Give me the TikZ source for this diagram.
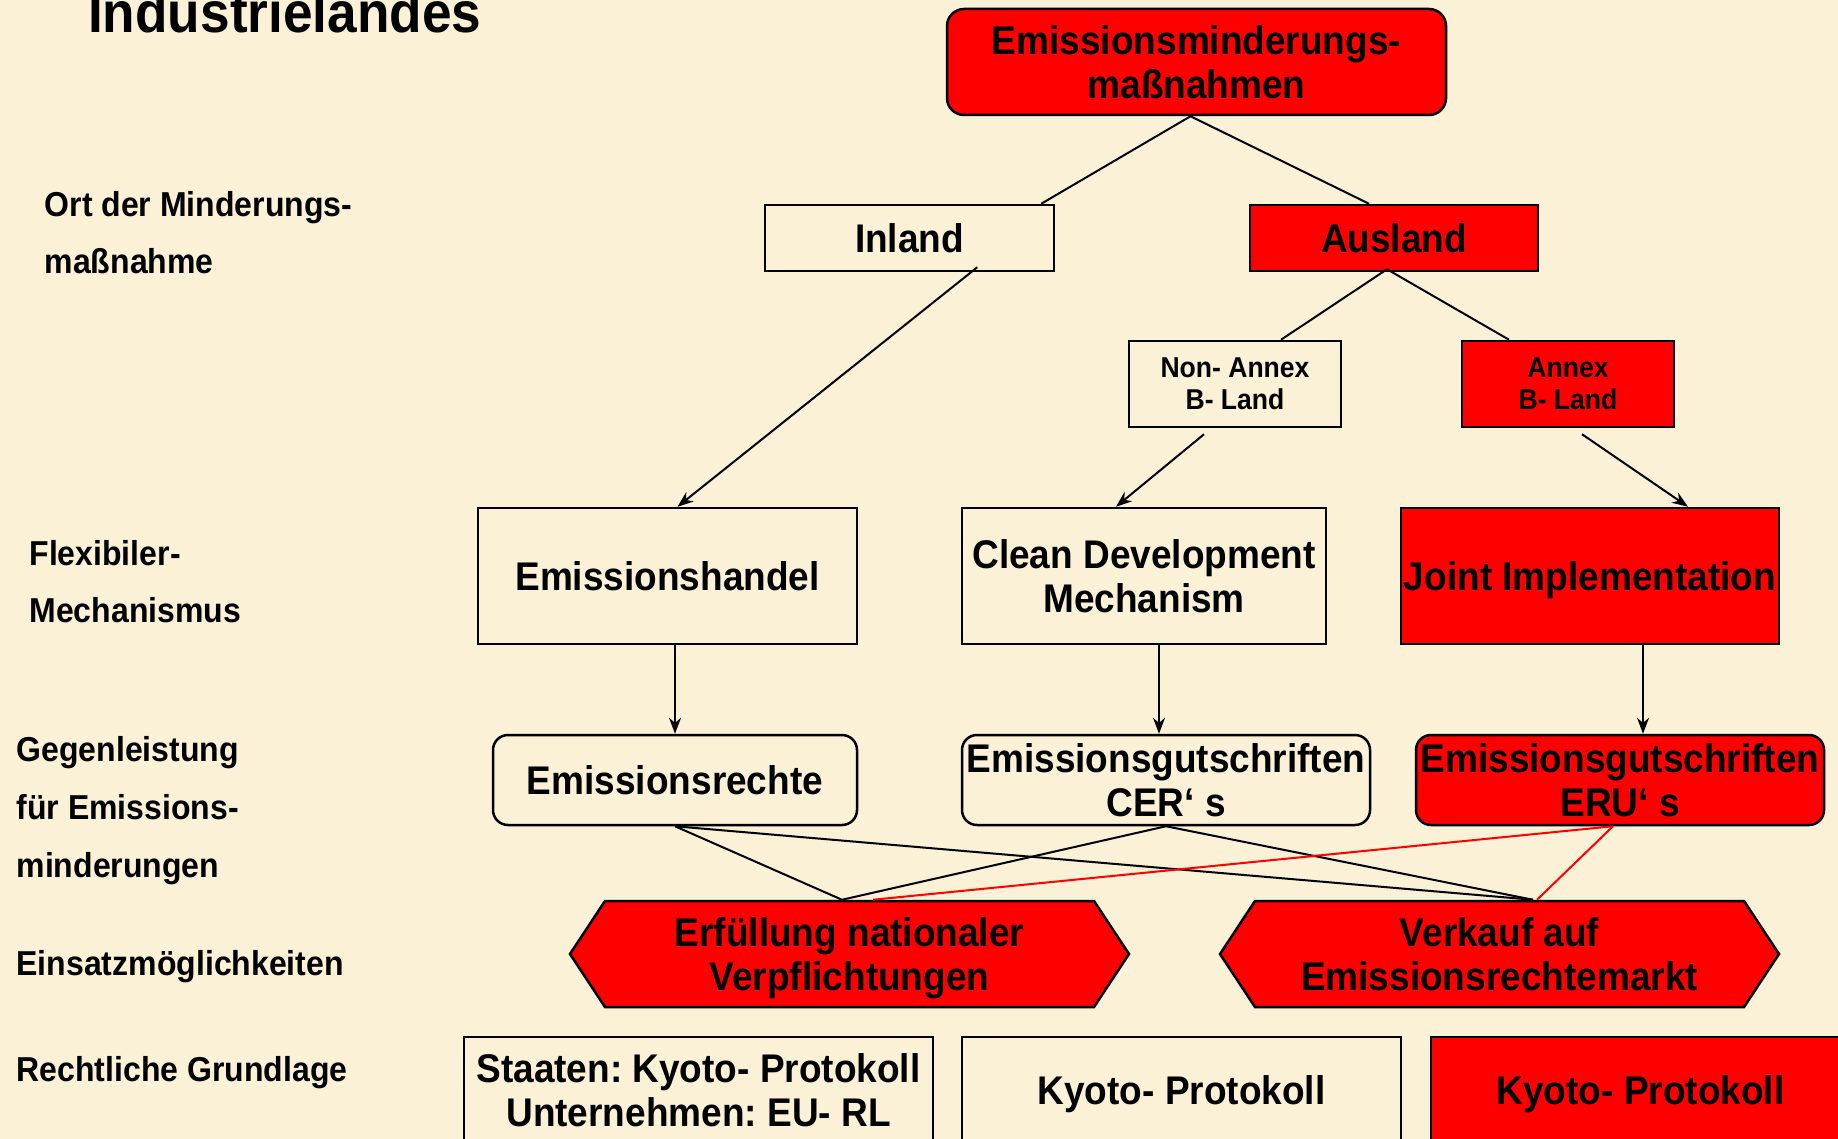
\documentclass[tikz,border=0pt]{standalone}
\usepackage{fontspec}
\setmainfont{Liberation Sans}[FakeStretch=0.925]
\usetikzlibrary{arrows.meta,calc}
\definecolor{bg}{RGB}{251,241,214}
\definecolor{rd}{RGB}{255,0,0}
\frenchspacing
\begin{document}
\begin{tikzpicture}[x=1pt,y=-1pt,
  box/.style={draw=black, line width=2.5pt, align=center, inner sep=0pt, text depth=0pt, font=\bfseries\fontsize{40}{44.5}\selectfont},
  wbox/.style={box},
  rbox/.style={box, fill=rd},
  small/.style={font=\bfseries\fontsize{28.7}{32}\selectfont},
  lab/.style={anchor=base west, inner sep=0pt, font=\bfseries\fontsize{34.6}{57}\selectfont},
  hexfill/.style={fill=rd, draw=black, line width=2.5pt},
  con/.style={line width=2pt, black},
  arr/.style={con, -{Stealth[length=16pt,width=12pt]}},
  redcon/.style={line width=2pt, rd}]
\clip (0,0) rectangle (1838,1139);
\fill[bg] (0,0) rectangle (1838,1139);

% title and row labels
\node[anchor=base west, inner sep=0pt, font=\bfseries\fontsize{57.5}{60}\selectfont] (title) at (88,33) {Industrielandes};
\node[lab] (l1) at (44.5,217) {\vtop{\baselineskip=57pt\hbox{Ort der Minderungs-}\hbox{maßnahme}}};
\node[lab] (l2) at (29.3,565) {\vtop{\baselineskip=57pt\hbox{Flexibiler-}\hbox{Mechanismus}}};
\node[lab] (l3) at (16.4,761) {\vtop{\baselineskip=58pt\hbox{Gegenleistung}\hbox{für Emissions-}\hbox{minderungen}}};
\node[lab] (l4) at (16.4,975) {Einsatzmöglichkeiten};
\node[lab] (l5) at (16.4,1081) {Rechtliche Grundlage};

% boxes
\node[rbox, rounded corners=17pt, minimum width=499pt, minimum height=106pt] (top) at (1196.5,62) {Emissionsminderungs-\\maßnahmen};
\node[wbox, minimum width=289pt, minimum height=66pt] (inland) at (909.5,238) {Inland};
\node[rbox, minimum width=288pt, minimum height=66pt] (ausland) at (1394,238) {Ausland};
\node[wbox, small, minimum width=212pt, minimum height=86pt] (nonannex) at (1235,384) {Non- Annex\\B- Land};
\node[rbox, small, minimum width=212pt, minimum height=86pt] (annex) at (1568,384) {Annex\\B- Land};
\node[wbox, minimum width=379pt, minimum height=136pt] (handel) at (667.5,576) {Emissionshandel};
\node[wbox, minimum width=364pt, minimum height=136pt] (cdm) at (1144,576) {Clean Development\\Mechanism};
\node[rbox, minimum width=378pt, minimum height=136pt] (ji) at (1590,576) {Joint Implementation};
\node[wbox, rounded corners=15pt, minimum width=364pt, minimum height=90pt] (rechte) at (675,780) {Emissionsrechte};
\node[wbox, rounded corners=15pt, minimum width=408pt, minimum height=90pt] (cer) at (1166,780) {Emissionsgutschriften\\CER‘ s};
\node[rbox, rounded corners=15pt, minimum width=408pt, minimum height=90pt] (eru) at (1620,780) {Emissionsgutschriften\\ERU‘ s};

% hexagons
\filldraw[hexfill] (570,954) -- (605,901) -- (1094,901) -- (1129,954) -- (1094,1007) -- (605,1007) -- cycle;
\node[box, draw=none, minimum width=559pt, minimum height=106pt] (erf) at (849.5,954) {Erfüllung nationaler\\Verpflichtungen};
\filldraw[hexfill] (1220,954) -- (1255,901) -- (1744,901) -- (1779,954) -- (1744,1007) -- (1255,1007) -- cycle;
\node[box, draw=none, minimum width=559pt, minimum height=106pt] (verk) at (1499.5,954) {Verkauf auf\\Emissionsrechtemarkt};

% legal basis
\node[wbox, minimum width=469pt, minimum height=106pt] (b1) at (698.5,1090) {Staaten: Kyoto- Protokoll\\Unternehmen: EU- RL};
\node[wbox, minimum width=439pt, minimum height=106pt] (b2) at (1181.5,1090) {Kyoto- Protokoll};
\node[rbox, minimum width=419pt, minimum height=106pt] (b3) at (1640.5,1090) {Kyoto- Protokoll};

% connectors
\draw[con] ($(top.south)+(-6,0)$) -- ($(inland.north east)+(-14,0)$);
\draw[con] ($(top.south)+(-6,0)$) -- ($(ausland.north)+(-25,0)$);
\draw[arr] ($(inland.south east)+(-78,-5)$) -- ($(handel.north)+(10,0)$);
\draw[con] ($(ausland.south)+(-7,-3)$) -- ($(nonannex.north)+(46,0)$);
\draw[con] ($(ausland.south)+(-7,-3)$) -- ($(annex.north)+(-59,0)$);
\draw[arr] ($(nonannex.south)+(-31,6)$) -- ($(cdm.north)+(-28,0)$);
\draw[arr] ($(annex.south)+(14,6)$) -- ($(ji.north)+(98,0)$);
\draw[arr] (rechte.north |- handel.south) -- (rechte.north);
\draw[arr] ($(cdm.south)+(15,0)$) -- ($(cer.north)+(-7,0)$);
\draw[arr] ($(ji.south)+(53,0)$) -- ($(eru.north)+(23,0)$);
\draw[con] (rechte.south) -- ($(erf.north)+(-7.5,0)$);
\draw[con] (rechte.south) -- ($(verk.north)+(33.5,0)$);
\draw[con] (cer.south) -- ($(erf.north)+(-7.5,0)$);
\draw[con] (cer.south) -- ($(verk.north)+(33.5,0)$);
\draw[redcon] ($(eru.south)+(-7,0)$) -- ($(erf.north)+(23.5,0)$);
\draw[redcon] ($(eru.south)+(-7,0)$) -- ($(verk.north)+(37.5,0)$);
\end{tikzpicture}
\end{document}
